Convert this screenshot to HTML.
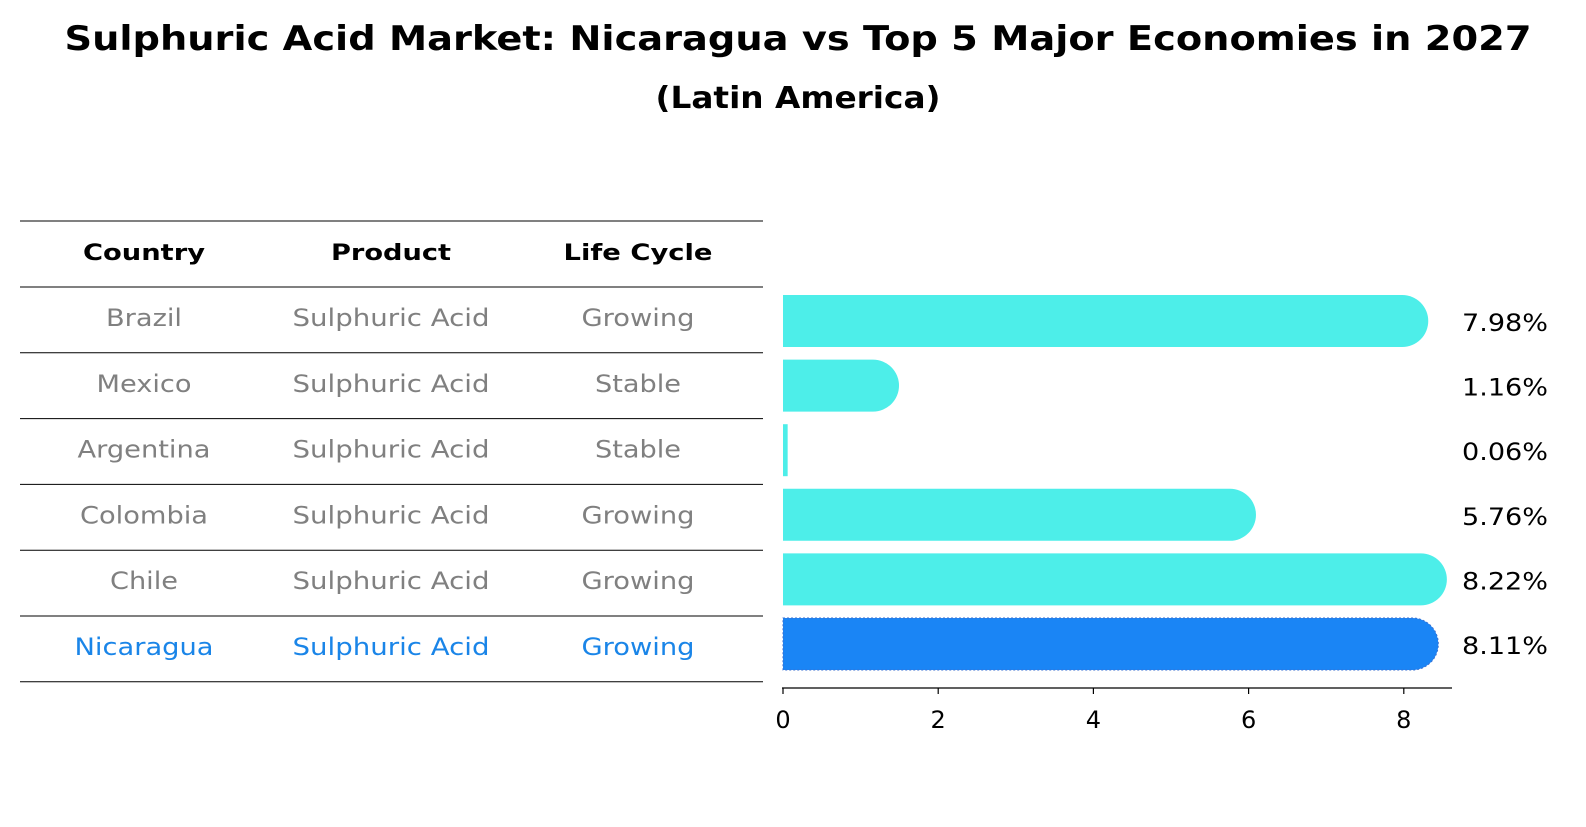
<!DOCTYPE html>
<html><head><meta charset="utf-8">
<style>
body{margin:0;background:#fff;font-family:"DejaVu Sans","Liberation Sans",sans-serif;}
svg text{font-family:"DejaVu Sans","Liberation Sans",sans-serif;}
</style></head>
<body>
<svg id="chart" width="1586" height="823" xmlns="http://www.w3.org/2000/svg">
<text x="798" y="50" text-anchor="middle" font-size="34" font-weight="bold" textLength="1467" lengthAdjust="spacingAndGlyphs">Sulphuric Acid Market: Nicaragua vs Top 5 Major Economies in 2027</text>
<text x="798" y="108" text-anchor="middle" font-size="30" font-weight="bold" textLength="285" lengthAdjust="spacingAndGlyphs">(Latin America)</text>
<g id="table"></g>
<g id="bars"></g>
</svg>
<script>
const countries=["Brazil","Mexico","Argentina","Colombia","Chile","Nicaragua"];
const products=["Sulphuric Acid","Sulphuric Acid","Sulphuric Acid","Sulphuric Acid","Sulphuric Acid","Sulphuric Acid"];
const lifeCycles=["Growing","Stable","Stable","Growing","Growing","Growing"];
const growth=[7.98,1.16,0.06,5.76,8.22,8.11];
const tickValues=[0,2,4,6,8];
const NS="http://www.w3.org/2000/svg";
const widths={"Country":122,"Product":120,"Life Cycle":149,"Brazil":76,"Mexico":95,"Argentina":133,"Colombia":128,"Chile":68,"Nicaragua":139,"Sulphuric Acid":197,"Growing":113,"Stable":86};
function mk(tag,attrs,parent){const e=document.createElementNS(NS,tag);for(const k in attrs)e.setAttribute(k,attrs[k]);parent.appendChild(e);return e;}
function fit(t,s){if(widths[s]){t.setAttribute('textLength',widths[s]);t.setAttribute('lengthAdjust','spacingAndGlyphs');}}
const table=document.getElementById('table');
const bars=document.getElementById('bars');
const x=v=>783+v*77.6;
const rowY=i=>321+i*64.6;
const colX=[144,391,638];
for(let i=0;i<8;i++){
  const yy=i==0?221:287+(i-1)*65.8;
  const l=mk('line',{x1:20,x2:763,y1:yy,y2:yy,stroke:'#000','stroke-width':1},table);
  
  
}
["Country","Product","Life Cycle"].forEach((h,j)=>{
  const t=mk('text',{x:colX[j],y:260,'text-anchor':'middle','font-size':22,'font-weight':'bold'},table);
  t.textContent=h;fit(t,h);
  
  
});
countries.forEach((c,i)=>{
  const hl=i===countries.length-1;
  const col=hl?'#1a85e8':'#808080';
  const yy=318+i*65.8+8;
  [c,products[i],lifeCycles[i]].forEach((v,j)=>{
    const t=mk('text',{x:colX[j],y:yy,'text-anchor':'middle','font-size':24,fill:col},table);
    t.textContent=v;fit(t,v);
    
    
  });
});
growth.forEach((v,i)=>{
  const hl=i===growth.length-1;
  const fill=hl?'#1a85f5':'#4deee9';
  const cy=rowY(i),h=52,r=26;
  const g=mk('g',{},bars);
  
  
  const w=x(v)-x(0);
  if(w>r){
    mk('path',{d:`M${x(0)},${cy-r} H${x(v)} A${r},${r} 0 0 1 ${x(v)},${cy+r} H${x(0)} Z`,fill:fill,stroke:hl?'#3a6fd0':'none','stroke-dasharray':hl?'2,2':'none'},g);
  } else {
    mk('rect',{x:x(0),y:cy-r,width:Math.max(w,1),height:h,fill:fill},g);
  }
  const t=mk('text',{x:1462,y:cy+10,'font-size':24,textLength:86,lengthAdjust:'spacingAndGlyphs'},bars);
  t.textContent=v.toFixed(2)+'%';
  
  
});
const ax=mk('line',{x1:782,x2:1452,y1:688,y2:688,stroke:'#000','stroke-width':1.2},bars);


tickValues.forEach(v=>{
  const tk=mk('line',{x1:x(v),x2:x(v),y1:688,y2:694,stroke:'#000','stroke-width':1.2},bars);
  
  
  const t=mk('text',{x:x(v),y:728,'text-anchor':'middle','font-size':24},bars);
  t.textContent=String(v);
  
  
});
</script>
</body></html>
